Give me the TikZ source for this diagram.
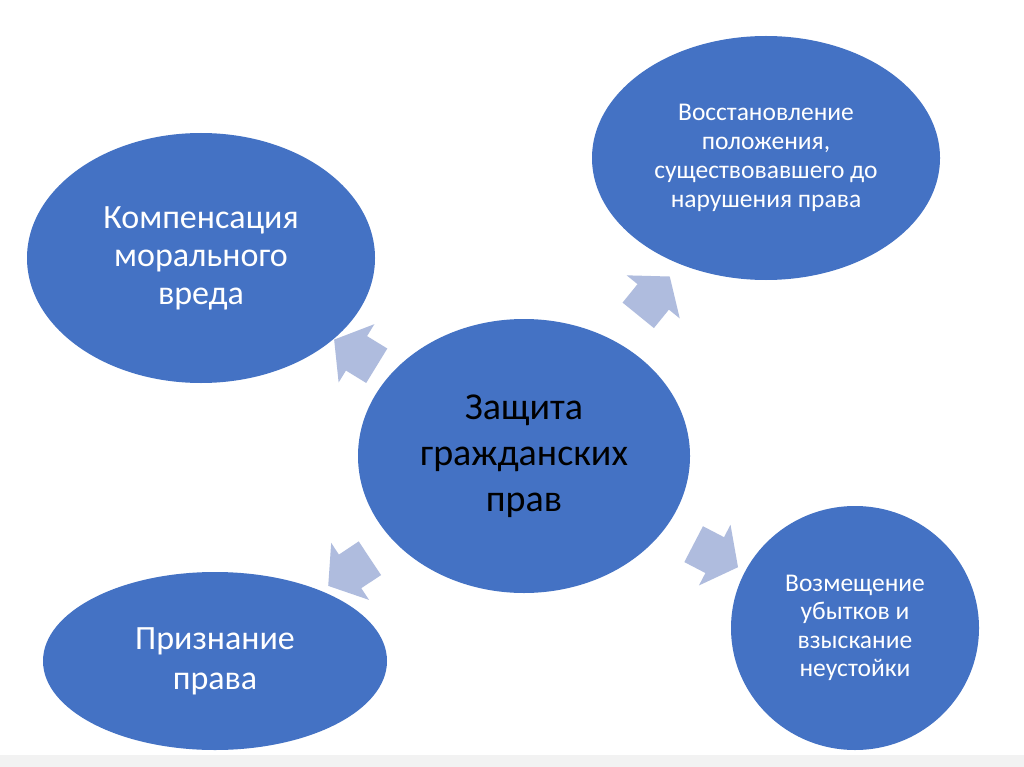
\documentclass[tikz,border=0pt]{standalone}
\usepackage{fontspec}
\setmainfont{Carlito}
\usetikzlibrary{shapes.geometric,shapes.arrows}
\definecolor{ellblue}{HTML}{4472C4}
\definecolor{arrblue}{RGB}{175,188,222}
\definecolor{edgegray}{RGB}{242,242,242}
\begin{document}
\begin{tikzpicture}[x=1pt,y=-1pt,
  bubble/.style={ellipse, fill=ellblue, draw=none, inner sep=0pt, align=center, text=white},
  blockarrow/.style={single arrow, fill=arrblue, draw=none, minimum height=50pt,
    single arrow head extend=14pt, single arrow tip angle=105,
    inner xsep=0pt, inner ysep=20pt, sloped, allow upside down}]
\fill[white] (0,0) rectangle (1024,767);
\fill[edgegray] (0,755) rectangle (1024,767);
\useasboundingbox (0,0) rectangle (1024,767);

\node[bubble, minimum width=348pt, minimum height=250pt, font=\fontsize{34}{38}\selectfont] (ul) at (201,258)
  {Компенсация\\морального\\вреда};
\node[bubble, minimum width=348pt, minimum height=244pt, font=\fontsize{25.5}{29}\selectfont] (ur) at (766,158)
  {Восстановление\\положения,\\существовавшего до\\нарушения права};
\node[bubble, minimum width=332pt, minimum height=274pt, text=black, font=\fontsize{38}{46}\selectfont] (c) at (524,456)
  {Защита\\гражданских\\прав};
\node[bubble, minimum width=344pt, minimum height=178pt, font=\fontsize{34}{40}\selectfont] (ll) at (215,661)
  {Признание\\права};
\node[bubble, minimum width=248pt, minimum height=244pt, font=\fontsize{25.5}{28.5}\selectfont] (lr) at (855,628)
  {Возмещение\\убытков и\\взыскание\\неустойки};

\path (c) -- (ul) node[blockarrow, pos=0.5] (a1) {};
\path (c) -- (ur) node[blockarrow, pos=0.515] (a2) {};
\path (c) -- (lr) node[blockarrow, pos=0.55] (a3) {};
\path (c) -- (ll) node[blockarrow, pos=0.53] (a4) {};
\end{tikzpicture}
\end{document}
